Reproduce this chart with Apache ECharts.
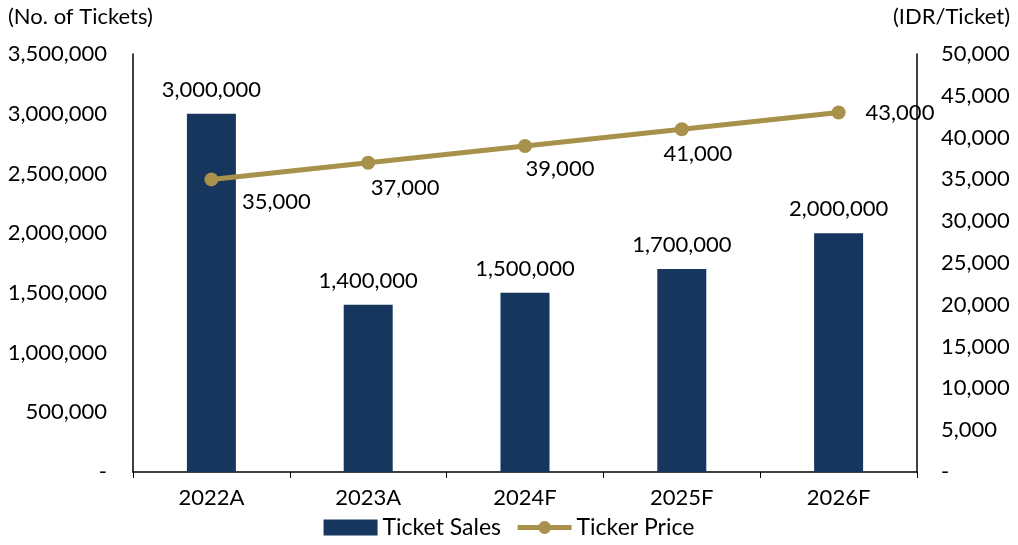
<!DOCTYPE html>
<html><head><meta charset="utf-8">
<script src="https://cdn.jsdelivr.net/npm/echarts@6/dist/echarts.min.js"></script>
<style>html,body{margin:0;padding:0;background:#fff}#c{width:1018px;height:545px}</style>
</head><body><div id="c"></div>
<script>
const categories = ['2022A', '2023A', '2024F', '2025F', '2026F'];
const ticketSales = [3000000, 1400000, 1500000, 1700000, 2000000];
const ticketPrice = [35000, 37000, 39000, 41000, 43000];
const priceLabelOffsets = [[65, 23], [37, 25], [35, 23], [16, 25], [0, 0]];
const priceLabelPositions = ['inside', 'inside', 'inside', 'inside', 'right'];

const FONT = 'Lato';
const FS = 22;
const fmt = v => v === 0 ? '-' : v.toLocaleString('en-US');
const chart = echarts.init(document.getElementById('c'));
chart.setOption({
  animation: false,
  textStyle: { fontFamily: FONT },
  grid: { left: 133, right: 101, top: 54, bottom: 73 },
  legend: {
    bottom: 1, left: 'center', itemGap: 14, itemWidth: 54, itemHeight: 16,
    textStyle: { fontSize: 23, color: '#000', fontFamily: FONT },
    data: [
      { name: 'Ticket Sales', icon: 'rect' },
      { name: 'Ticker Price', lineStyle: { width: 5, color: '#A8914A' } }
    ]
  },
  xAxis: {
    type: 'category', data: categories,
    axisLine: { lineStyle: { color: '#000', width: 1.5 } },
    axisTick: { show: true, length: 6, lineStyle: { color: '#000' } },
    axisLabel: { fontSize: FS, color: '#000', margin: 15 }
  },
  yAxis: [{
    type: 'value', min: 0, max: 3500000, interval: 500000,
    name: '(No. of Tickets)', nameLocation: 'end', nameGap: 26,
    nameTextStyle: { fontSize: FS, color: '#000', align: 'left', padding: [0, 0, 0, -125] },
    axisLine: { show: true, lineStyle: { color: '#000', width: 1.5 } },
    axisTick: { show: false }, splitLine: { show: false },
    axisLabel: { fontSize: FS, color: '#000', margin: 26, formatter: fmt }
  }, {
    type: 'value', min: 0, max: 50000, interval: 5000,
    name: '(IDR/Ticket)', nameLocation: 'end', nameGap: 26,
    nameTextStyle: { fontSize: FS, color: '#000', align: 'right', padding: [0, -93, 0, 0] },
    axisLine: { show: true, lineStyle: { color: '#000', width: 1.5 } },
    axisTick: { show: false }, splitLine: { show: false },
    axisLabel: { fontSize: FS, color: '#000', margin: 24, formatter: fmt }
  }],
  series: [{
    name: 'Ticket Sales', type: 'bar', data: ticketSales, barWidth: 49,
    itemStyle: { color: '#17365D' },
    label: { show: true, position: 'top', distance: 13, fontSize: FS, color: '#000', formatter: p => fmt(p.value) }
  }, {
    name: 'Ticker Price', type: 'line', yAxisIndex: 1,
    data: ticketPrice.map((v, i) => ({
      value: v,
      label: { position: priceLabelPositions[i], offset: priceLabelOffsets[i], distance: 20 }
    })),
    symbol: 'circle', symbolSize: 14,
    lineStyle: { color: '#A8914A', width: 5 },
    itemStyle: { color: '#A8914A' },
    label: { show: true, fontSize: FS, color: '#000', formatter: p => fmt(p.value) }
  }]
});
</script></body></html>
